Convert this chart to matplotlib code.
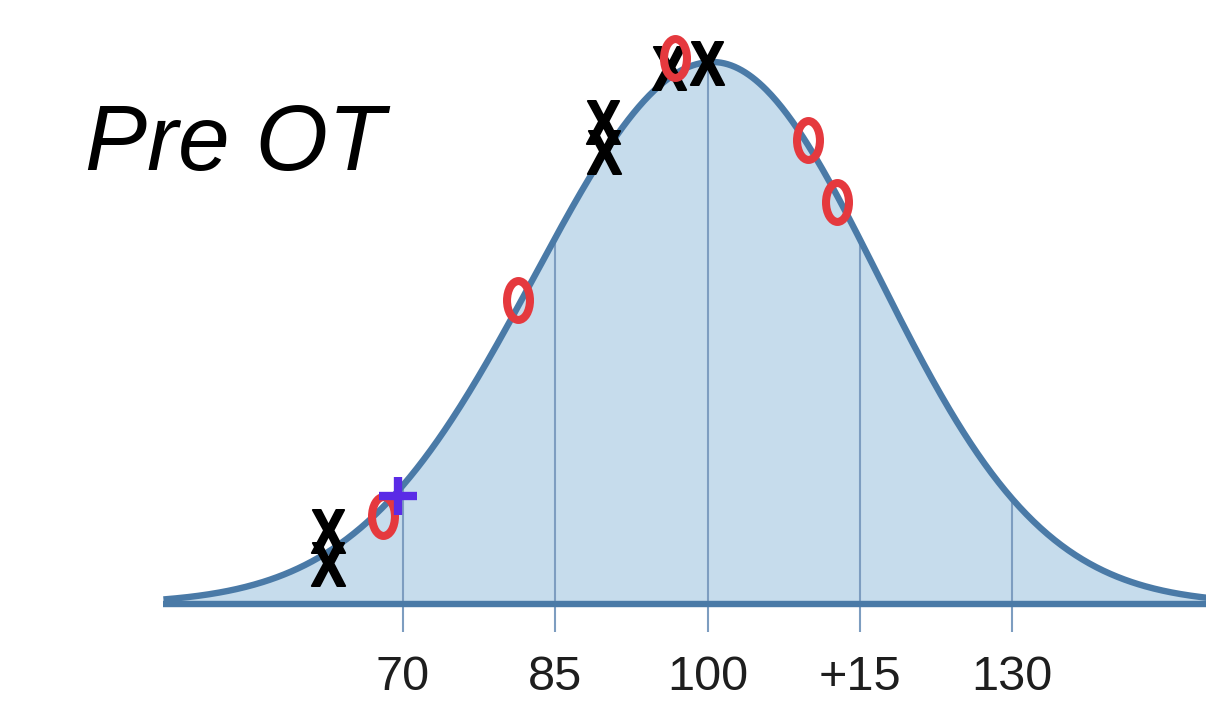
import numpy as np
import matplotlib
matplotlib.use("Agg")
import matplotlib.pyplot as plt
from matplotlib.path import Path
from matplotlib.textpath import TextPath
from matplotlib.font_manager import FontProperties
from matplotlib.transforms import Affine2D

# curve shape (slightly asymmetric bell)
mu = 100.5
sigma_left = 17.5
sigma_right = 16.3
x_start, x_end = 46.4, 149.5

tick_values = [70, 85, 100, 115, 130]
tick_labels = ["70", "85", "100", "+15", "130"]

# marker positions: score, height relative to the peak
x_marks_x = [62.6, 62.6, 89.7, 89.8, 96.2, 99.95]
x_marks_y = [0.135, 0.074, 0.889, 0.834, 0.989, 0.998]
o_marks_x = [68.0, 81.3, 96.8, 109.9, 112.8]
o_marks_y = [0.162, 0.561, 1.007, 0.856, 0.742]
plus_x = [69.5]
plus_y = [0.199]

line_col = "#4a7aa7"
fill_col = "#c6dcec"
grid_col = "#7d9dc0"


def bell(x):
    x = np.asarray(x, dtype=float)
    s = np.where(x < mu, sigma_left, sigma_right)
    return np.exp(-0.5 * ((x - mu) / s) ** 2)


def glyph_marker(ch, sx=1.0, weight="bold", family="Liberation Sans"):
    tp = TextPath((0, 0), ch, size=1, prop=FontProperties(family=family, weight=weight))
    ext = tp.get_extents()
    tr = Affine2D().translate(-(ext.x0 + ext.x1) / 2, -(ext.y0 + ext.y1) / 2).scale(sx, 1)
    return tr.transform_path(tp)


fig = plt.figure(figsize=(12.06, 7.13), dpi=100)
ax = fig.add_axes([0, 0, 1, 1])
ax.set_xlim(30.3, 149.11)
ax.set_ylim(-0.2011, 1.1144)
ax.axis("off")

xs = np.linspace(x_start, x_end, 600)
ys = bell(xs)
ax.fill_between(xs, 0, ys, color=fill_col, lw=0, zorder=1)
ax.vlines(tick_values, -0.052, bell(tick_values), color=grid_col, lw=1.5, zorder=2)
ax.hlines(0, x_start, x_end, color=line_col, lw=4.6, zorder=3)
ax.plot(xs, ys, color=line_col, lw=4.6, solid_capstyle="butt", zorder=3)

for v, lab in zip(tick_values, tick_labels):
    ax.text(v, -0.1365, lab, ha="center", va="center", fontsize=35, color="#1e1e1e",
            family="Liberation Sans")

x_path = glyph_marker("X", sx=0.82)
ax.plot(x_marks_x, x_marks_y, ls="none", marker=x_path, ms=31, mfc="black",
        mec="black", mew=1.4, zorder=4)

ellipse = Affine2D().scale(0.59, 1).transform_path(Path.unit_circle())
ax.plot(o_marks_x, o_marks_y, ls="none", marker=ellipse, ms=28, mfc="none",
        mec="#e5393e", mew=5.8, zorder=5)

ax.plot(plus_x, plus_y, ls="none", marker="+", ms=28, mec="#5a2be6", mew=6, zorder=6)

fig.text(85 / 1206, 1 - 170 / 713, "Pre OT", fontsize=67, style="italic",
         family="Liberation Sans", ha="left", va="baseline", color="black")

fig.savefig("out.png", dpi=100, facecolor="white")
